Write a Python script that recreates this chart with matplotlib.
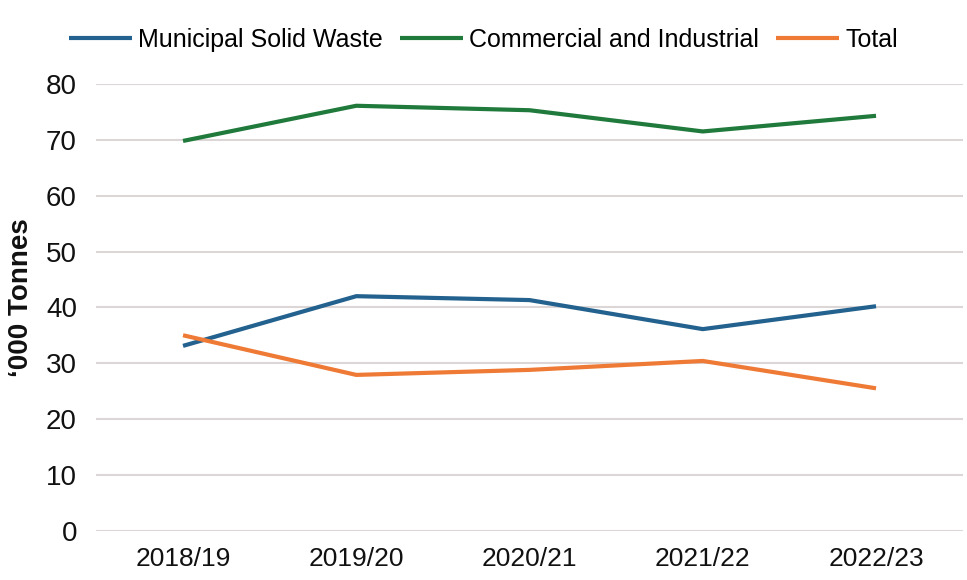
import matplotlib
matplotlib.use("Agg")
import matplotlib.pyplot as plt
from matplotlib import font_manager

years = ["2018/19", "2019/20", "2020/21", "2021/22", "2022/23"]
msw = [33.1, 42.0, 41.3, 36.1, 40.2]
ci = [69.8, 76.1, 75.3, 71.5, 74.3]
total = [35.0, 27.9, 28.8, 30.4, 25.5]
yticks = [0, 10, 20, 30, 40, 50, 60, 70, 80]

names = {f.name for f in font_manager.fontManager.ttflist}
fam = "Liberation Sans Narrow" if "Liberation Sans Narrow" in names else "Liberation Sans"
plt.rcParams["font.family"] = [fam, "DejaVu Sans"]

fig = plt.figure(figsize=(9.67, 5.8), dpi=100)
ax = fig.add_axes([0.0997, 0.085, 0.8958, 0.7702])

x = list(range(len(years)))
ax.plot(x, msw, color="#23618e", lw=3, label="Municipal Solid Waste", solid_capstyle="butt")
ax.plot(x, ci, color="#1f7a3b", lw=3, label="Commercial and Industrial", solid_capstyle="butt")
ax.plot(x, total, color="#ee7a35", lw=3, label="Total", solid_capstyle="butt")

ax.set_xlim(-0.5, len(years) - 0.5)
ax.set_ylim(0, 80)
ax.set_xticks(x)
ax.set_xticklabels(years, fontsize=19)
ax.set_yticks(yticks)
ax.set_yticklabels([str(v) for v in yticks], fontsize=20)
ax.tick_params(axis="both", length=0, colors="#111111")
ax.tick_params(axis="x", pad=12)
ax.tick_params(axis="y", pad=14)
for s in ax.spines.values():
    s.set_visible(False)
ax.grid(axis="y", color="#dcd6d6", lw=1.5)
ax.set_axisbelow(True)

fig.text(0.022, 0.486, "\u2018000 Tonnes", rotation=90, fontsize=20, fontweight="bold",
         ha="center", va="center", color="#111111")

fig.legend(loc="center", bbox_to_anchor=(0.5, 0.931), ncol=3, frameon=False,
           fontsize=18, handlelength=2.5, handletextpad=0.25, columnspacing=0.7)

fig.savefig("out.png", dpi=100, facecolor="white")
